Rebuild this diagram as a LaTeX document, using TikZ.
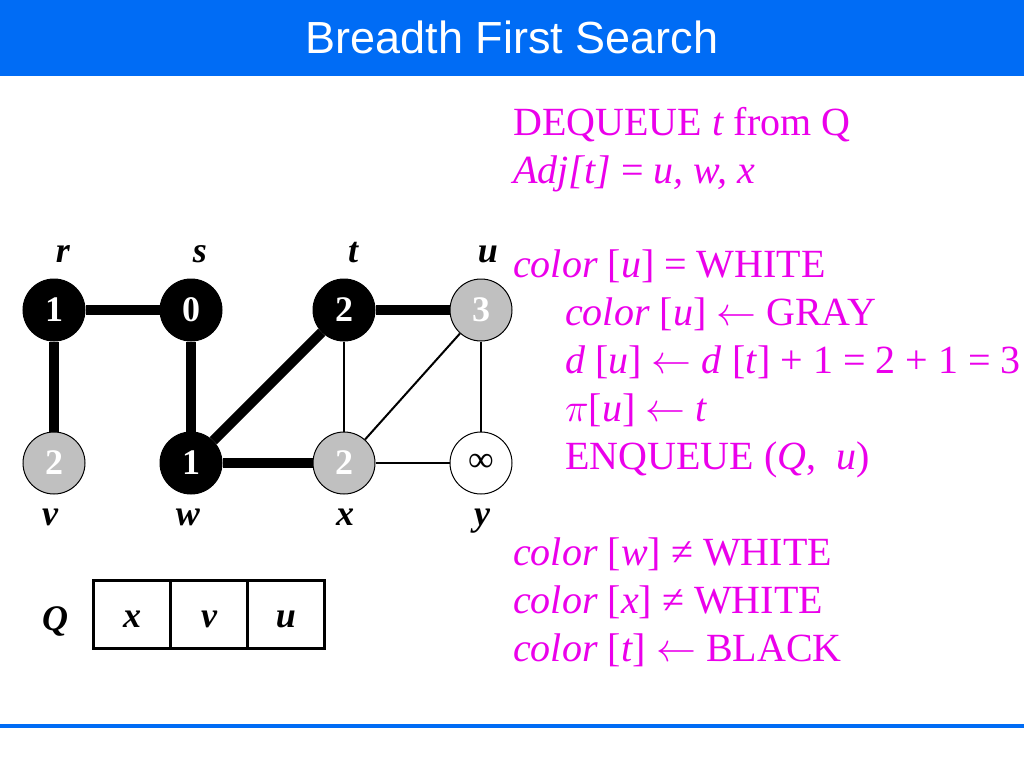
\RequirePackage{fix-cm}
\documentclass[tikz,border=0pt]{standalone}
\usepackage{fontspec}
\setmainfont{Liberation Serif}
\newfontfamily\titlefont{Liberation Sans}
\usetikzlibrary{positioning}
\definecolor{titleblue}{RGB}{0,108,245}
\definecolor{codemagenta}{RGB}{235,0,235}
\definecolor{vgray}{RGB}{192,192,192}
\begin{document}
\begin{tikzpicture}[x=1pt, y=-1pt,
	vert/.style={circle, draw=black, line width=1pt, minimum size=62pt, inner sep=0pt, font=\fontsize{36}{36}\selectfont\bfseries},
	blackvert/.style={vert, fill=black, text=white},
	grayvert/.style={vert, fill=vgray, text=white},
	whitevert/.style={vert, fill=white, text=black},
	vname/.style={anchor=base, inner sep=0pt, font=\fontsize{36}{36}\selectfont\bfseries\itshape},
	tree/.style={line width=10pt},
	nontree/.style={line width=2pt},
	cell/.style={draw, line width=3pt, outer sep=0pt, minimum width=77pt, minimum height=68pt, inner sep=0pt, text height=27pt, text depth=0pt, font=\fontsize{36}{36}\selectfont\bfseries\itshape},
	codeline/.style={anchor=base west, inner sep=0pt, text=codemagenta, font=\fontsize{40}{48}\selectfont}]
	\useasboundingbox (0,0) rectangle (1024,768);
	\fill[white] (0,0) rectangle (1024,768);
	\fill[titleblue] (0,0) rectangle (1024,76);
	\node[text=white, font=\titlefont\fontsize{45}{45}\selectfont] (title) at (512,37) {Breadth First Search};
	\draw[titleblue, line width=4pt] (0,726) -- (1024,726);

	\node[blackvert] (r) at (54,310) {1};
	\node[blackvert] (s) at (191,310) {0};
	\node[blackvert] (t) at (344,310) {2};
	\node[grayvert] (u) at (481,310) {3};
	\node[grayvert] (v) at (54,463) {2};
	\node[blackvert] (w) at (191,463) {1};
	\node[grayvert] (x) at (344,463) {2};
	\node[whitevert] (y) at (481,463) {\mdseries ∞};

	\draw[tree] (r) -- (s);
	\draw[tree] (r) -- (v);
	\draw[tree] (s) -- (w);
	\draw[tree] (w) -- (t);
	\draw[tree] (w) -- (x);
	\draw[tree] (t) -- (u);
	\draw[nontree] (t) -- (x);
	\draw[nontree] (x) -- (u);
	\draw[nontree] (x) -- (y);
	\draw[nontree] (u) -- (y);

	\node[vname] (rname) at (63,262) {r};
	\node[vname] (sname) at (200,262) {s};
	\node[vname] (tname) at (353,262) {t};
	\node[vname] (uname) at (488,262) {u};
	\node[vname] (vname) at (50,525) {v};
	\node[vname] (wname) at (188,525) {w};
	\node[vname] (xname) at (345,525) {x};
	\node[vname] (yname) at (482,525) {y};

	\node[vname] (qname) at (55,630) {Q};
	\node[cell] (qx) at (132,614) {x};
	\node[cell, right=0pt of qx] (qv) {v};
	\node[cell, right=0pt of qv] (qu) {u};

	\node[codeline] (deq) at (513,135) {DEQUEUE \textit{t} from Q};
	\node[codeline] (adj) at (513,183) {\textit{Adj[t]} = \textit{u, w, x}};
	\node[codeline] (cwhite) at (513,277) {\textit{color} [\textit{u}] = WHITE};
	\node[codeline] (cgray) at (565,325) {\textit{color} [\textit{u}] $\leftarrow$ GRAY};
	\node[codeline] (du) at (565,373) {\textit{d} [\textit{u}] $\leftarrow$ \textit{d} [\textit{t}] + 1 = 2 + 1 = 3};
	\node[codeline] (piu) at (565,421) {$\pi$[\textit{u}] $\leftarrow$ \textit{t}};
	\node[codeline] (enq) at (565,469) {ENQUEUE (\textit{Q},\ \ \textit{u})};
	\node[codeline] (cw) at (513,565) {\textit{color} [\textit{w}] ≠ WHITE};
	\node[codeline] (cx) at (513,613) {\textit{color} [\textit{x}] ≠ WHITE};
	\node[codeline] (ct) at (513,661) {\textit{color} [\textit{t}] $\leftarrow$ BLACK};
\end{tikzpicture}
\end{document}
